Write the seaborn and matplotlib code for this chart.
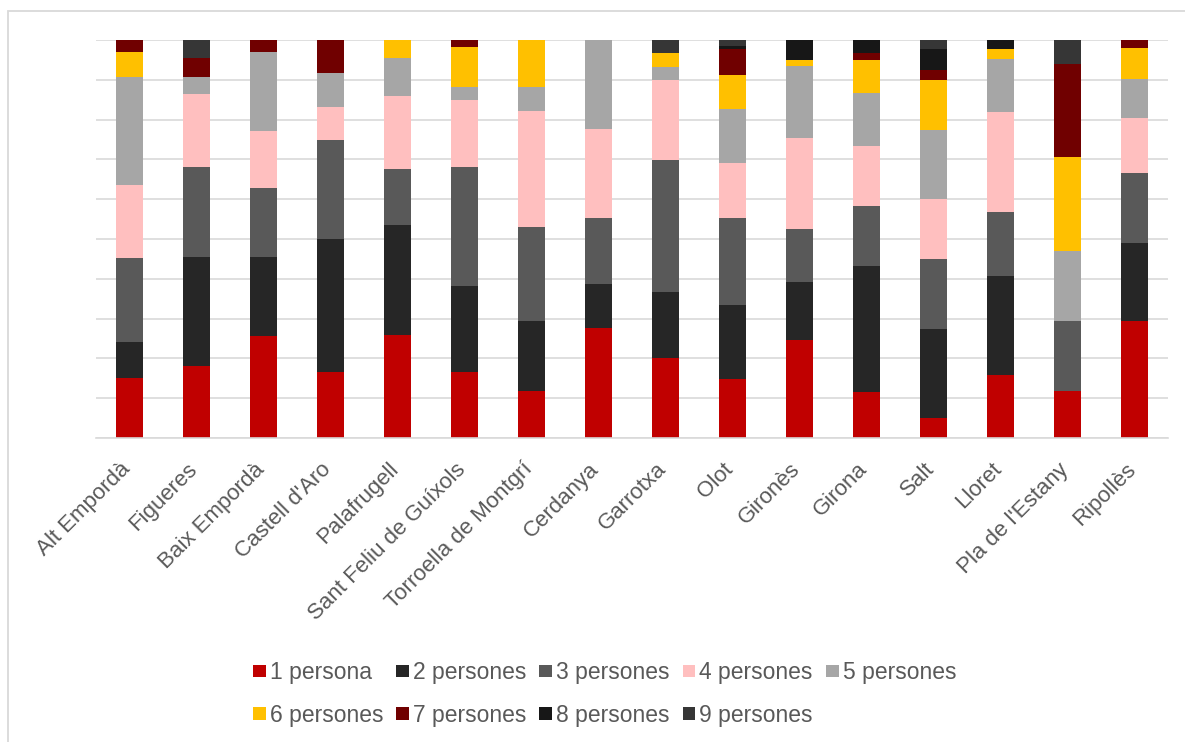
import numpy as np
import matplotlib
matplotlib.use("Agg")
import matplotlib.pyplot as plt
import matplotlib.transforms as mtransforms
from matplotlib.patches import Patch, Rectangle
import seaborn as sns

sns.set_theme(style="white")
plt.rcParams['font.family'] = ['Liberation Sans', 'DejaVu Sans']

### Data (percentages of households by size)
comarques = ["Alt Empordà", "Figueres", "Baix Empordà", "Castell d'Aro", "Palafrugell",
             "Sant Feliu de Guíxols", "Torroella de Montgrí", "Cerdanya", "Garrotxa", "Olot",
             "Gironès", "Girona", "Salt", "Lloret", "Pla de l'Estany", "Ripollès"]
series_names = ["1 persona", "2 persones", "3 persones", "4 persones", "5 persones",
                "6 persones", "7 persones", "8 persones", "9 persones"]

p1 = [15.1, 18.1, 25.7, 16.6, 25.9, 16.6, 11.8, 27.7, 20.0, 14.8, 24.6, 11.6, 5.0, 15.8, 11.8, 29.4]
p2 = [9.0, 27.3, 19.9, 33.3, 27.7, 21.7, 17.5, 11.1, 16.6, 18.5, 14.6, 31.7, 22.4, 25.0, 0.0, 19.5]
p3 = [21.2, 22.7, 17.2, 25.0, 14.0, 29.9, 23.6, 16.6, 33.3, 22.1, 13.2, 15.0, 17.5, 15.9, 17.5, 17.7]
p4 = [18.3, 18.3, 14.4, 8.4, 18.4, 16.8, 29.4, 22.3, 20.1, 13.7, 23.0, 15.1, 15.1, 25.1, 0.0, 13.8]
p5 = [27.2, 4.4, 19.9, 8.3, 9.6, 3.3, 5.9, 22.3, 3.3, 13.5, 18.0, 13.3, 17.5, 13.5, 17.6, 9.8]
p6 = [6.2, 0.0, 0.0, 0.0, 4.4, 10.0, 11.8, 0.0, 3.4, 8.7, 1.7, 8.3, 12.5, 2.4, 23.6, 7.9]
p7 = [3.0, 4.6, 2.9, 8.4, 0.0, 1.7, 0.0, 0.0, 0.0, 6.4, 0.0, 1.7, 2.5, 0.0, 23.6, 1.9]
p8 = [0.0, 0.0, 0.0, 0.0, 0.0, 0.0, 0.0, 0.0, 0.0, 0.9, 4.9, 3.3, 5.2, 2.3, 0.0, 0.0]
p9 = [0.0, 4.6, 0.0, 0.0, 0.0, 0.0, 0.0, 0.0, 3.3, 1.4, 0.0, 0.0, 2.3, 0.0, 5.9, 0.0]

colors = ['#C00000', '#262626', '#595959', '#FFBFBF', '#A6A6A6',
          '#FFC000', '#700000', '#171717', '#363636']

series = [p1, p2, p3, p4, p5, p6, p7, p8, p9]
shares = np.array(series, dtype=float)
shares = shares / shares.sum(axis=0) * 100  # 100% stacked
cumul = np.cumsum(shares, axis=0)

fig = plt.figure(figsize=(11.85, 7.42), dpi=100)
ax = fig.add_axes([0.081, 0.4097, 0.9047, 0.5363])

# draw tallest cumulative first so lower segments sit on top
for i in range(len(series) - 1, -1, -1):
    sns.barplot(x=comarques, y=cumul[i], color=colors[i], saturation=1, width=0.4,
                linewidth=0, ax=ax)

ax.set_ylim(0, 100)
ax.set_xlim(-0.5, len(comarques) - 0.5)
ax.set_yticks(np.arange(0, 101, 10))
ax.set_yticklabels([])
ax.tick_params(axis='y', length=0)
ax.grid(axis='y', color='#D9D9D9', linewidth=1.2)
ax.set_axisbelow(True)
for s in ['top', 'right', 'left']:
    ax.spines[s].set_visible(False)
ax.spines['bottom'].set_color('#D9D9D9')
ax.spines['bottom'].set_linewidth(1.2)
ax.set_xlabel('')
ax.set_ylabel('')
ax.tick_params(axis='x', length=0, pad=15)
ax.set_xticks(range(len(comarques)))
ax.set_xticklabels(comarques, rotation=45, ha='right', va='top', rotation_mode='anchor',
                   fontsize=16, color='#595959')
shift = mtransforms.ScaledTranslation(-7 / 72, 0, fig.dpi_scale_trans)
for lab in ax.get_xticklabels():
    lab.set_transform(lab.get_transform() + shift)

# legend: row-major order with 5 columns
order = [0, 5, 1, 6, 2, 7, 3, 8, 4]
handles = [Patch(facecolor=colors[k], edgecolor='none', label=series_names[k]) for k in order]
fig.legend(handles=handles, loc='upper left', bbox_to_anchor=(0.2135, 0.1085), ncol=5,
           frameon=False, fontsize=16.5, labelcolor='#595959',
           handlelength=0.55, handleheight=0.45, handletextpad=0.18,
           columnspacing=0.57, labelspacing=0.83, borderpad=0, borderaxespad=0)

# chart area border
fig.patches.append(Rectangle((8 / 1185, -0.1), 1.2, 1 - 11 / 742 + 0.1, transform=fig.transFigure,
                             fill=False, edgecolor='#D9D9D9', linewidth=1.3))

fig.savefig('out.png', dpi=100)
